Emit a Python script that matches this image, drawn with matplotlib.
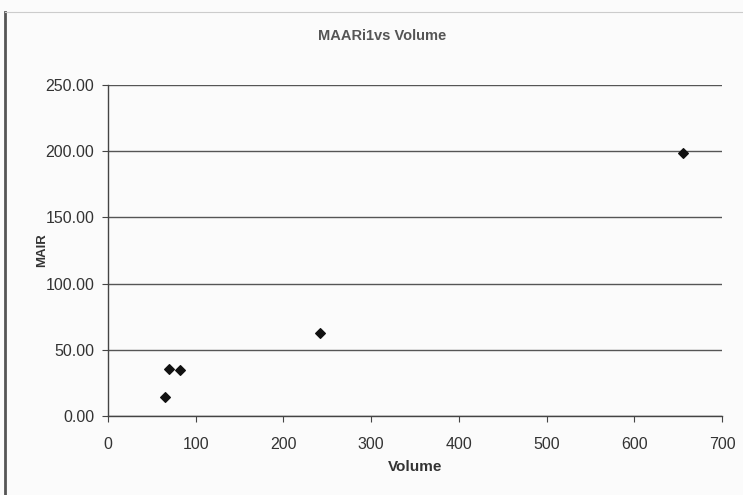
import matplotlib.pyplot as plt
from matplotlib.lines import Line2D

# values
volume = [65, 70, 82, 242, 656]
mair = [14.5, 35.5, 34.7, 62.7, 198.6]
x_ticks = [0, 100, 200, 300, 400, 500, 600, 700]
y_ticks = [0, 50, 100, 150, 200, 250]

plt.rcParams['font.family'] = ['Liberation Sans', 'DejaVu Sans']

fig = plt.figure(figsize=(7.43, 4.95), dpi=100)
fig.patch.set_facecolor('#fbfbfb')
ax = fig.add_axes([0.1454, 0.1596, 0.8263, 0.6687])
ax.set_facecolor('#fbfbfb')

ax.scatter(volume, mair, marker='D', s=24, color='#111111', zorder=3)

ax.set_xlim(0, 700)
ax.set_ylim(0, 250)
ax.set_xticks(x_ticks)
ax.set_yticks(y_ticks)
ax.set_yticklabels(['%.2f' % v for v in y_ticks])
ax.yaxis.grid(True, color='#555555', linewidth=1.0)
ax.set_axisbelow(True)

for s in ['top', 'right']:
    ax.spines[s].set_visible(False)
for s in ['left', 'bottom']:
    ax.spines[s].set_color('#444444')
    ax.spines[s].set_linewidth(1.0)
ax.tick_params(direction='out', length=4, color='#444444', labelsize=11.5,
               labelcolor='#333333')
ax.tick_params(axis='x', pad=11)
ax.tick_params(axis='y', pad=6)

fig.text(0.514, 0.927, 'MAARi1vs Volume', fontsize=10.5, fontweight='bold',
         color='#555555', ha='center', va='center')
ax.set_xlabel('Volume', fontsize=11, fontweight='bold', color='#333333', labelpad=6)
ax.set_ylabel('MAIR', fontsize=9.5, fontweight='bold', color='#333333')
ax.yaxis.set_label_coords(-0.098, 0.5)

# border of the scanned chart area
fig.add_artist(Line2D([0.007, 0.007], [0.0, 0.976], color='#555555', linewidth=2.0))
fig.add_artist(Line2D([0.007, 1.0], [0.976, 0.976], color='#cccccc', linewidth=0.8))

fig.savefig('out.png', dpi=100, facecolor=fig.get_facecolor())
